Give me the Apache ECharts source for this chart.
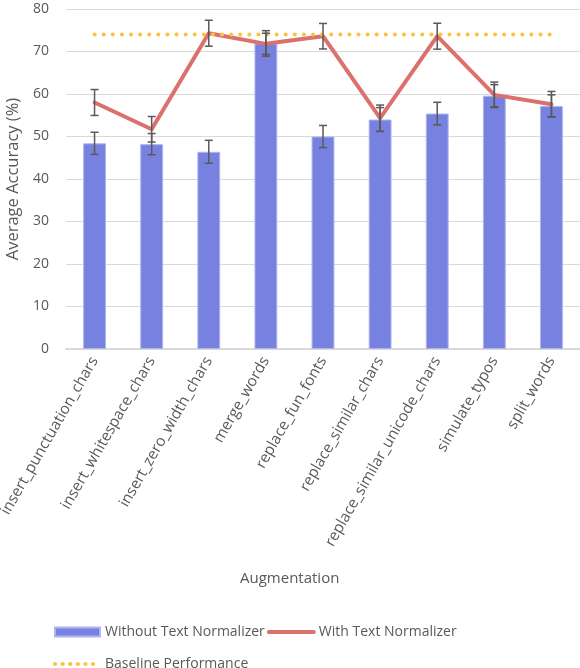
<!DOCTYPE html>
<html>
<head>
<meta charset="utf-8">
<script src="https://cdn.jsdelivr.net/npm/echarts@6/dist/echarts.min.js"></script>
<style>
html,body{margin:0;padding:0;background:#fff;}
#chart{width:580px;height:668px;}
</style>
</head>
<body>
<div id="chart"></div>
<script>
var categories = ['insert_punctuation_chars','insert_whitespace_chars','insert_zero_width_chars','merge_words','replace_fun_fonts','replace_similar_chars','replace_similar_unicode_chars','simulate_typos','split_words'];
var withoutVals = [48.4, 48.2, 46.4, 71.9, 50.0, 54.0, 55.4, 59.6, 57.2];
var withoutErr  = [2.6, 2.5, 2.7, 3.0, 2.6, 2.8, 2.65, 2.6, 2.6];
var withVals    = [58.0, 51.7, 74.3, 71.8, 73.6, 54.3, 73.6, 59.8, 57.6];
var withErr     = [3.05, 3.0, 3.05, 2.5, 3.0, 3.1, 3.05, 3.0, 3.0];
var baselineVals = [74, 74, 74, 74, 74, 74, 74, 74, 74];
var yTicks = [0, 10, 20, 30, 40, 50, 60, 70, 80];

var FONT = 'Open Sans';
var TXT = '#595959';

function errData(vals, errs) {
  return vals.map(function (v, i) { return [i, v - errs[i], v + errs[i]]; });
}
function errRender(params, api) {
  var x = api.value(0);
  var lo = api.coord([x, api.value(1)]);
  var hi = api.coord([x, api.value(2)]);
  var w = 4;
  var style = { stroke: '#595959', lineWidth: 1.5, fill: null };
  return {
    type: 'group',
    children: [
      { type: 'line', shape: { x1: hi[0], y1: hi[1], x2: lo[0], y2: lo[1] }, style: style },
      { type: 'line', shape: { x1: hi[0] - w, y1: hi[1], x2: hi[0] + w, y2: hi[1] }, style: style },
      { type: 'line', shape: { x1: lo[0] - w, y1: lo[1], x2: lo[0] + w, y2: lo[1] }, style: style }
    ]
  };
}

var hiddenSym = { color: 'rgba(0,0,0,0)', borderWidth: 0, opacity: 0 };

var chart = echarts.init(document.getElementById('chart'));
chart.setOption({
  animation: false,
  backgroundColor: '#fff',
  textStyle: { fontFamily: FONT },
  grid: { left: 66, right: 0, top: 9, bottom: 319, containLabel: false, outerBoundsMode: 'none' },
  legend: [{
    data: [
      { name: 'Without Text Normalizer', icon: 'rect' },
      { name: 'With Text Normalizer', itemStyle: hiddenSym, lineStyle: { width: 4, cap: 'round' } }
    ],
    left: 49, top: 620, itemWidth: 45, itemHeight: 9, itemGap: 2,
    textStyle: { color: TXT, fontSize: 14, fontFamily: FONT }
  }, {
    data: [
      { name: 'Baseline Performance', itemStyle: hiddenSym, lineStyle: { width: 4, type: [0.1, 7.5], cap: 'round' } }
    ],
    left: 48, top: 652, itemWidth: 45, itemHeight: 9, itemGap: 2,
    textStyle: { color: TXT, fontSize: 14, fontFamily: FONT }
  }],
  graphic: [{
    type: 'text', left: 240, top: 571,
    style: { text: 'Augmentation', fill: TXT, font: '15px "Open Sans"' }
  }],
  xAxis: {
    type: 'category',
    data: categories,
    axisLine: { lineStyle: { color: '#D9D9D9', width: 2 } },
    axisTick: { show: false },
    axisLabel: { rotate: 60, color: TXT, fontSize: 15.3, fontFamily: FONT, margin: 9, interval: 0 }
  },
  yAxis: {
    type: 'value',
    min: yTicks[0], max: yTicks[yTicks.length - 1], interval: 10,
    name: 'Average Accuracy (%)',
    nameLocation: 'middle', nameGap: 39,
    nameTextStyle: { color: TXT, fontSize: 16.5, fontFamily: FONT },
    axisLine: { show: false },
    axisTick: { show: false },
    axisLabel: { color: TXT, fontSize: 14, fontFamily: FONT, margin: 17 },
    splitLine: { lineStyle: { color: '#D9D9D9', width: 1 } }
  },
  series: [{
    name: 'Without Text Normalizer',
    type: 'bar',
    data: withoutVals,
    barWidth: '40%',
    itemStyle: { color: '#7782E0', borderColor: '#AEB4EE', borderWidth: 1 },
    z: 2
  }, {
    name: 'withoutErr',
    type: 'custom',
    data: errData(withoutVals, withoutErr),
    renderItem: errRender,
    encode: { x: 0, y: [1, 2] },
    z: 5,
    silent: true
  }, {
    name: 'With Text Normalizer',
    type: 'line',
    data: withVals,
    showSymbol: false,
    symbol: 'none',
    lineStyle: { color: '#DB716C', width: 4, cap: 'round', join: 'round' },
    itemStyle: { color: '#DB716C' },
    z: 3
  }, {
    name: 'Baseline Performance',
    type: 'line',
    data: baselineVals,
    showSymbol: false,
    symbol: 'none',
    lineStyle: { color: '#FBC23E', width: 4, type: [0.1, 9], cap: 'round' },
    itemStyle: { color: '#FBC23E' },
    z: 4
  }, {
    name: 'withErr',
    type: 'custom',
    data: errData(withVals, withErr),
    renderItem: errRender,
    encode: { x: 0, y: [1, 2] },
    z: 5,
    silent: true
  }]
});
</script>
</body>
</html>
